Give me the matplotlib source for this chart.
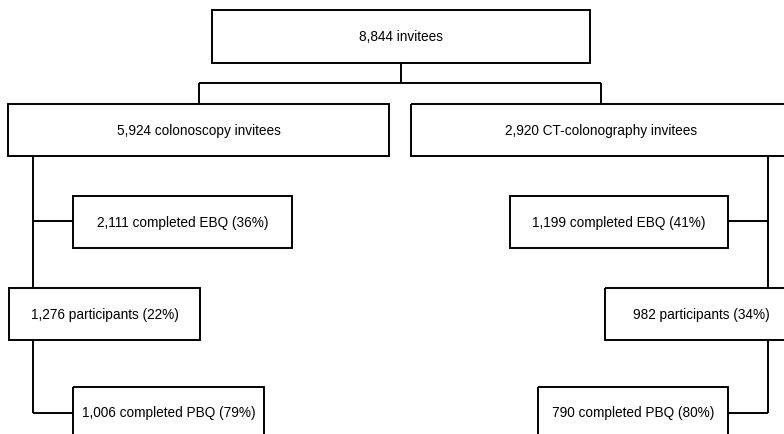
import matplotlib.pyplot as plt
from matplotlib.patches import Rectangle

# flowchart counts
total_invitees = 8844
arms = ["colonoscopy", "CT-colonography"]
arm_invitees = [5924, 2920]
ebq_completed = [2111, 1199]
ebq_pct = [36, 41]
participants = [1276, 982]
participants_pct = [22, 34]
pbq_completed = [1006, 790]
pbq_pct = [79, 80]

W, H = 784, 434
fig = plt.figure(figsize=(W / 100, H / 100), dpi=100)
ax = fig.add_axes([0, 0, 1, 1])
ax.set_xlim(0, W)
ax.set_ylim(H, 0)
ax.axis("off")

LW = 1.4
FS = 9.8


def box(x0, y0, x1, y1, text):
    ax.add_patch(Rectangle((x0, y0), x1 - x0, y1 - y0, fill=False,
                           edgecolor="black", lw=LW, clip_on=False))
    ax.text((x0 + x1) / 2, (y0 + y1) / 2 + 0.5, text, ha="center", va="center",
            fontsize=FS, family=["Liberation Sans", "DejaVu Sans"])


def line(xs, ys):
    ax.plot(xs, ys, color="black", lw=LW, solid_capstyle="butt",
            solid_joinstyle="miter")


# layout (pixels)
top = (212, 10, 590, 63)
arm_box = [(8, 104, 389, 156), (411, 104, 791, 156)]
ebq_box = [(73, 196, 292, 248), (510, 196, 728, 248)]
part_box = [(9, 288, 200, 340), (605, 288, 797, 340)]
pbq_box = [(73, 387, 264, 439), (538, 387, 728, 439)]
spine_x = [33, 768]

box(*top, f"{total_invitees:,} invitees")
line([401, 401], [63, 83])
line([199, 601], [83, 83])
line([199, 199], [83, 104])
line([601, 601], [83, 104])

for i in range(2):
    sx = spine_x[i]
    box(*arm_box[i], f"{arm_invitees[i]:,} {arms[i]} invitees")
    box(*ebq_box[i], f"{ebq_completed[i]:,} completed EBQ ({ebq_pct[i]}%)")
    box(*part_box[i], f"{participants[i]:,} participants ({participants_pct[i]}%)")
    box(*pbq_box[i], f"{pbq_completed[i]:,} completed PBQ ({pbq_pct[i]}%)")
    line([sx, sx], [156, 288])
    line([sx, sx], [340, 413])
    if i == 0:
        line([sx, ebq_box[i][0]], [221, 221])
        line([sx, pbq_box[i][0]], [413, 413])
    else:
        line([ebq_box[i][2], sx], [221, 221])
        line([pbq_box[i][2], sx], [413, 413])

fig.savefig("out.png", dpi=100)
